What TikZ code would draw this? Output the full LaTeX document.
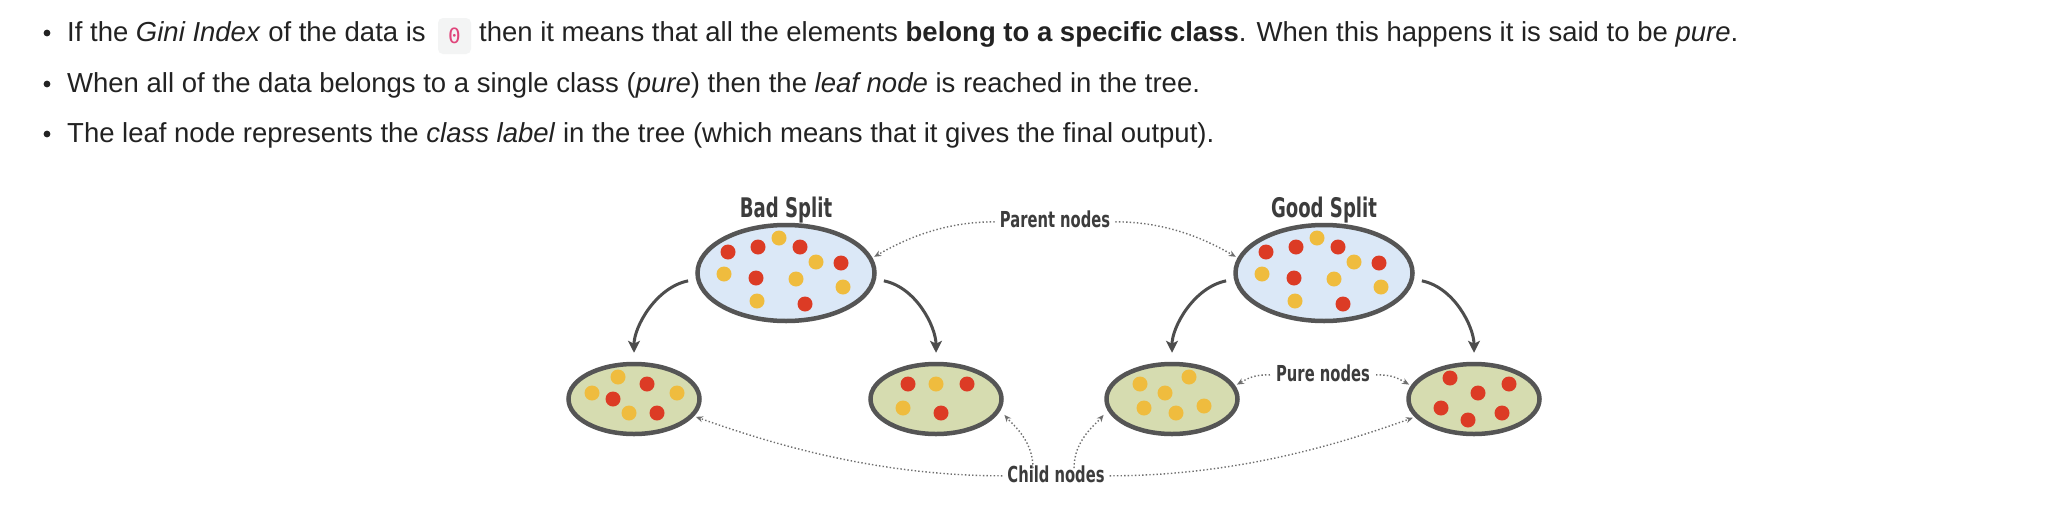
\documentclass[tikz,border=0pt]{standalone}
\usepackage{fontspec}
\setmainfont{Liberation Sans}
\newfontfamily\hand[FakeStretch=0.67]{DejaVu Sans}
\newfontfamily\monofnt{DejaVu Sans Mono}
\usetikzlibrary{shapes.geometric,arrows.meta}
\definecolor{txtc}{HTML}{222222}
\definecolor{labc}{HTML}{3C3C3C}
\definecolor{strk}{HTML}{555555}
\definecolor{bluef}{HTML}{DBE8F7}
\definecolor{greenf}{HTML}{D6DCB0}
\definecolor{dotr}{HTML}{DC3B25}
\definecolor{doty}{HTML}{EFBC3E}
\definecolor{dotlc}{HTML}{6E6E6E}
\definecolor{codebg}{HTML}{F3F4F4}
\definecolor{codepk}{HTML}{E0457B}
\definecolor{arrc}{HTML}{4D4D4D}
\tikzset{
  bodytxt/.style={anchor=base west, inner sep=0pt, text=txtc, font=\fontsize{27.5}{30}\selectfont},
  bigell/.style={ellipse, draw=strk, line width=4.5pt, fill=bluef, minimum width=177pt, minimum height=96pt, inner sep=0pt},
  smallell/.style={ellipse, draw=strk, line width=4.5pt, fill=greenf, minimum width=131pt, minimum height=70pt, inner sep=0pt},
  titlelab/.style={anchor=base, inner sep=0pt, text=labc, font=\hand\bfseries\fontsize{27}{27}\selectfont},
  smalllab/.style={anchor=base, inner sep=0pt, text=labc, font=\hand\bfseries\fontsize{22}{22}\selectfont},
  bigarrow/.style={draw=arrc, line width=3pt, -{Stealth[length=12pt,width=12pt,inset=3pt]}},
  dotarrow/.style={draw=dotlc, line width=1.4pt, dash pattern=on 1.4pt off 2.2pt, -{Stealth[length=7pt,width=6pt]}},
}
\newcommand{\rdot}[2]{\fill[dotr] (#1,#2) circle (7.5pt);}
\newcommand{\ydot}[2]{\fill[doty] (#1,#2) circle (7.5pt);}
\begin{document}
\begin{tikzpicture}[x=1pt,y=-1pt]
\fill[white] (0,0) rectangle (2046,520);
\path[use as bounding box] (0,0) rectangle (2046,520);

% bullets and text
\fill[txtc] (47,33) circle (3.4pt);
\fill[txtc] (47,84) circle (3.4pt);
\fill[txtc] (47,134) circle (3.4pt);
\node[bodytxt] (l1a) at (67,41) {If the \textit{Gini Index} of the data is};
\node[fill=codebg, rounded corners=5pt, minimum width=33pt, minimum height=36pt, inner sep=0pt, text=codepk, font=\monofnt\fontsize{21}{21}\selectfont] (code) at (454.5,36) {0};
\node[bodytxt] (l1b) at (479,41) {then it means that all the elements \textbf{belong to a specific class}. When this happens it is said to be \textit{pure}.};
\node[bodytxt] (l2) at (67,92) {When all of the data belongs to a single class (\textit{pure}) then the \textit{leaf node} is reached in the tree.};
\node[bodytxt] (l3) at (67,142) {The leaf node represents the \textit{class label} in the tree (which means that it gives the final output).};

% parent ellipses
\node[bigell] (bad) at (786,273) {};
\node[bigell] (good) at (1324,273) {};
% children
\node[smallell] (lc) at (634,399) {};
\node[smallell] (rc) at (936,399) {};
\node[smallell] (glc) at (1172,399) {};
\node[smallell] (grc) at (1474,399) {};

% dots in parents
\foreach \dx in {0,538}{
  \begin{scope}[xshift=\dx]
  \rdot{728}{252}\rdot{758}{247}\ydot{779}{238}\rdot{800}{247}
  \ydot{816}{262}\rdot{841}{263}\ydot{724}{274}\rdot{756}{278}
  \ydot{796}{279}\ydot{843}{287}\ydot{757}{301}\rdot{805}{304}
  \end{scope}
}
% dots in children
\ydot{618}{377}\rdot{647}{384}\ydot{592}{393}\rdot{613}{399}\ydot{677}{393}\ydot{629}{413}\rdot{657}{413}
\rdot{908}{384}\ydot{936}{384}\rdot{967}{384}\ydot{903}{408}\rdot{941}{413}
\ydot{1140}{384}\ydot{1189}{377}\ydot{1165}{393}\ydot{1144}{408}\ydot{1176}{413}\ydot{1204}{406}
\rdot{1450}{378}\rdot{1509}{384}\rdot{1478}{393}\rdot{1441}{408}\rdot{1468}{420}\rdot{1502}{413}

% titles and labels
\node[titlelab] (tbad) at (786,217) {Bad Split};
\node[titlelab] (tgood) at (1324,217) {Good Split};
\node[smalllab] (plab) at (1055,227) {Parent nodes};
\node[smalllab] (clab) at (1056,482) {Child nodes};
\node[smalllab] (pulab) at (1323,381) {Pure nodes};

% solid arrows
\draw[bigarrow, shorten <=8pt, shorten >=9pt] (bad.184) .. controls +(-40,8) and +(0,-35) .. (lc.north);
\draw[bigarrow, shorten <=8pt, shorten >=9pt] (bad.-4) .. controls +(40,8) and +(0,-35) .. (rc.north);
\draw[bigarrow, shorten <=8pt, shorten >=9pt] (good.184) .. controls +(-40,8) and +(0,-35) .. (glc.north);
\draw[bigarrow, shorten <=8pt, shorten >=9pt] (good.-4) .. controls +(40,8) and +(0,-35) .. (grc.north);

% dotted connectors
\draw[dotarrow, shorten >=2pt] ([xshift=-5pt,yshift=-3pt]plab.west) .. controls +(-55,0) and +(28,-16) .. (bad.10);
\draw[dotarrow, shorten >=2pt] ([xshift=5pt,yshift=-3pt]plab.east) .. controls +(55,0) and +(-28,-16) .. (good.170);
\draw[dotarrow, shorten >=2pt] ([xshift=-5pt,yshift=-2pt]clab.west) .. controls +(-130,0) and +(70,25) .. (lc.-16);
\draw[dotarrow, shorten >=2pt] ([xshift=5pt,yshift=-2pt]clab.east) .. controls +(130,0) and +(-70,25) .. (grc.197);
\draw[dotarrow, shorten >=6pt] ([xshift=-23pt,yshift=-3pt]clab.north) .. controls +(0,-28) and +(12,14) .. (rc.-10);
\draw[dotarrow, shorten >=6pt] ([xshift=18pt,yshift=-3pt]clab.north) .. controls +(0,-28) and +(-12,14) .. (glc.190);
\draw[dotarrow, shorten >=2pt] ([xshift=-6pt,yshift=-2pt]pulab.west) .. controls +(-16,0) and +(14,-8) .. (glc.12);
\draw[dotarrow, shorten >=2pt] ([xshift=6pt,yshift=-2pt]pulab.east) .. controls +(16,0) and +(-14,-8) .. (grc.168);
\end{tikzpicture}
\end{document}
